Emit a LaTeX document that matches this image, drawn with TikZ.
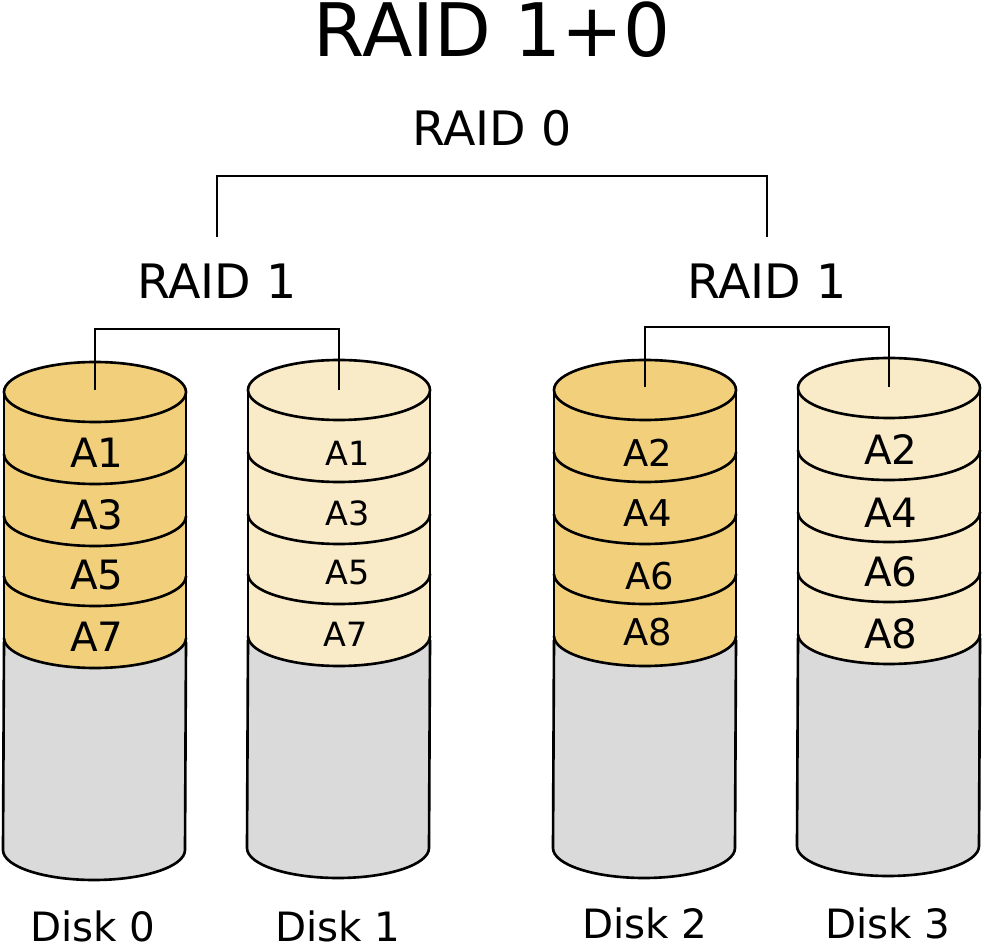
\documentclass[tikz,border=0pt]{standalone}
\usepackage{fontspec}
\setmainfont{DejaVu Sans}
\definecolor{dk}{HTML}{F2D07B}
\definecolor{lt}{HTML}{FAEBC8}
\definecolor{gr}{HTML}{DADADA}
\newcommand{\mydisk}[3]{% cx, top, color
\begin{scope}[shift={(#1,#2)}]
\fill[gr] (-91,0) -- (-91,458) arc[start angle=180,end angle=360,x radius=91,y radius=-30] -- (91,0) -- cycle;
\draw[line] (-91,250) -- (-92,458) arc[start angle=180,end angle=360,x radius=91,y radius=-30] -- (91,250);
\fill[#3] (-91,0) -- (-91,246) arc[start angle=180,end angle=360,x radius=91,y radius=-30] -- (91,0) -- cycle;
\foreach \yy in {62,124,184,246}
  \draw[line] (-91,\yy) arc[start angle=180,end angle=360,x radius=91,y radius=-30];
\draw[line] (-91,0) -- (-91,250) (91,0) -- (91,250);
\draw[line,fill=#3] (0,0) ellipse[x radius=91,y radius=30];
\end{scope}}
\begin{document}
\begin{tikzpicture}[x=0.02cm,y=-0.02cm,line/.style={line width=1.5pt,black},
 lab/.style={font=\fontsize{23}{23}\selectfont},
 big/.style={font=\fontsize{27}{27}\selectfont},
 sm/.style={font=\fontsize{19}{19}\selectfont}]
\useasboundingbox (0,0) rectangle (984,945);
\node[font=\fontsize{42}{42}\selectfont] (title) at (492,30) {RAID 1+0};
\node[big] (r0) at (492,128) {RAID 0};
\node[big] (r1a) at (217,281) {RAID 1};
\node[big] (r1b) at (767,281) {RAID 1};
\draw[line] (217,237) -- (217,176) -- (767,176) -- (767,237);
\mydisk{95}{392}{dk}
\mydisk{339}{390}{lt}
\mydisk{645}{390}{dk}
\mydisk{889}{388}{lt}
\draw[line] (95,390) -- (95,329) -- (339,329) -- (339,390);
\draw[line] (645,387) -- (645,327) -- (889,327) -- (889,387);
\node[lab] (a01) at (97,453) {A1};
\node[lab] (a03) at (97,515) {A3};
\node[lab] (a05) at (97,575) {A5};
\node[lab] (a07) at (97,637) {A7};
\node[sm] (a11) at (348,453) {A1};
\node[sm] (a13) at (348,513) {A3};
\node[sm] (a15) at (348,573) {A5};
\node[sm] (a17) at (346,634) {A7};
\node[sm,font=\fontsize{21}{21}\selectfont] (a22) at (648,453) {A2};
\node[sm,font=\fontsize{21}{21}\selectfont] (a24) at (648,513) {A4};
\node[sm,font=\fontsize{21}{21}\selectfont] (a26) at (650,576) {A6};
\node[sm,font=\fontsize{21}{21}\selectfont] (a28) at (648,632) {A8};
\node[lab] (a32) at (891,450) {A2};
\node[lab] (a34) at (891,513) {A4};
\node[lab] (a36) at (891,572) {A6};
\node[lab] (a38) at (891,634) {A8};
\node[lab] (d0) at (93,926) {Disk 0};
\node[lab] (d1) at (338,926) {Disk 1};
\node[lab] (d2) at (645,923) {Disk 2};
\node[lab] (d3) at (888,923) {Disk 3};
\end{tikzpicture}
\end{document}
